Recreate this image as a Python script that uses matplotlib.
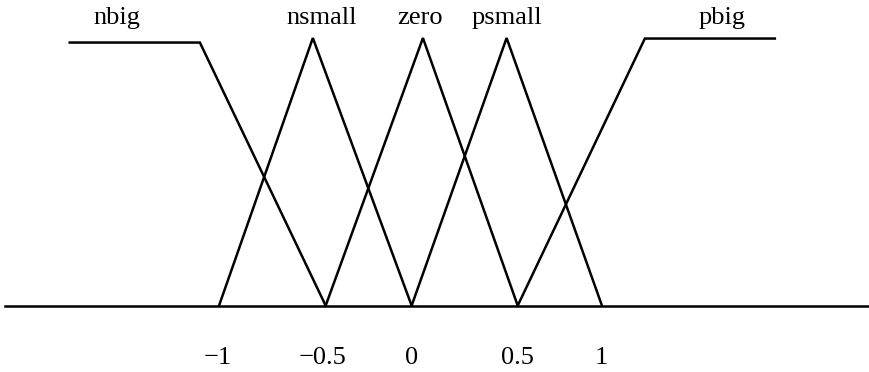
import matplotlib
matplotlib.use('Agg')
import matplotlib.pyplot as plt

plt.rcParams['font.family'] = ['Liberation Serif', 'DejaVu Serif']

# membership function break points (x, mu)
nbig_x = [-1.78, -1.10, -0.443]
nbig_y = [0.983, 0.983, 0.0]
nsmall_x = [-1.0, -0.51, 0.006]
nsmall_y = [0.0, 1.0, 0.0]
zero_x = [-0.443, 0.065, 0.56]
zero_y = [0.0, 1.0, 0.0]
psmall_x = [0.006, 0.502, 1.0]
psmall_y = [0.0, 1.0, 0.0]
pbig_x = [0.56, 1.224, 1.903]
pbig_y = [0.0, 0.998, 0.998]

sets = ['nbig', 'nsmall', 'zero', 'psmall', 'pbig']
label_x = [-1.533, -0.462, 0.05, 0.504, 1.627]
label_y = 1.075

tick_pos = [-1.005, -0.462, 0.003, 0.56, 0.998]
tick_labels = ['\u22121', '\u22120.5', '0', '0.5', '1']

fig = plt.figure(figsize=(8.7, 3.72), dpi=100)
ax = fig.add_axes([0, 0, 1, 1])

# baseline
ax.plot([-2.117, 2.40], [0, 0], color='black', lw=1.8)

for xs, ys in [(nbig_x, nbig_y), (nsmall_x, nsmall_y), (zero_x, zero_y),
               (psmall_x, psmall_y), (pbig_x, pbig_y)]:
    ax.plot(xs, ys, color='black', lw=1.8, solid_joinstyle='miter')

for name, lx in zip(sets, label_x):
    ax.text(lx, label_y, name, ha='center', va='center', fontsize=19)

for pos, lab in zip(tick_pos, tick_labels):
    ax.text(pos, -0.195, lab, ha='center', va='center', fontsize=19)

ax.set_xlim(-2.144, 2.40)
ax.set_ylim(-0.248, 1.142)
ax.axis('off')

fig.savefig('out.png', dpi=100)
